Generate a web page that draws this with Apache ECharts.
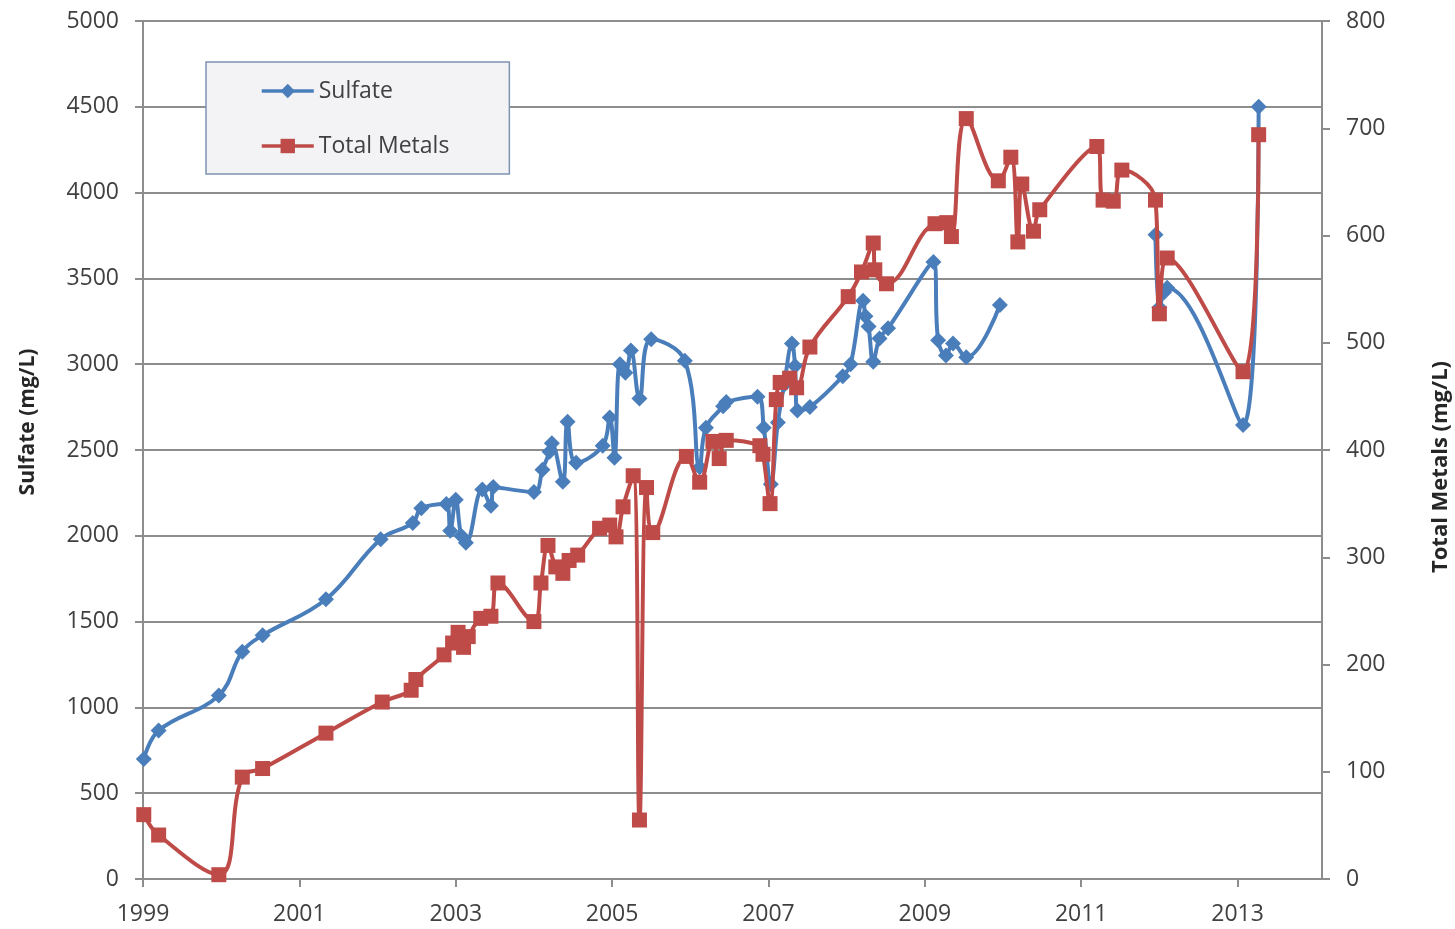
<!DOCTYPE html>
<html>
<head>
<meta charset="utf-8">
<title>Sulfate and Total Metals</title>
<script src="https://cdn.jsdelivr.net/npm/echarts@6/dist/echarts.min.js"></script>
<style>
  html, body { margin: 0; padding: 0; background: #ffffff; }
  #chart { width: 1455px; height: 929px; }
</style>
</head>
<body>
<div id="chart"></div>
<script>
// Sampling dates as decimal years
const sulfateDates = [
  1999.01, 1999.20, 1999.97, 2000.27, 2000.53, 2001.34, 2002.04, 2002.45, 2002.56,
  2002.88, 2002.93, 2003.00, 2003.07, 2003.13, 2003.34, 2003.45, 2003.48,
  2004.00, 2004.11, 2004.20, 2004.23, 2004.37, 2004.43, 2004.54, 2004.88, 2004.97,
  2005.03, 2005.10, 2005.17, 2005.24, 2005.35, 2005.50, 2005.93, 2006.12, 2006.20,
  2006.42, 2006.46, 2006.86, 2006.94, 2007.03, 2007.12, 2007.20, 2007.30, 2007.34,
  2007.37, 2007.53, 2007.95, 2008.05, 2008.21, 2008.24, 2008.28, 2008.34, 2008.42,
  2008.53, 2009.11, 2009.17, 2009.27, 2009.36, 2009.53, 2009.96,
  null,
  2011.95, 2012.00, 2012.06, 2012.10, 2013.07, 2013.27
];
// Sulfate concentration (mg/L); null marks the break in sampling
const sulfateValues = [
  700, 865, 1070, 1325, 1420, 1630, 1980, 2075, 2160,
  2185, 2030, 2210, 2000, 1960, 2270, 2175, 2285,
  2255, 2385, 2490, 2540, 2315, 2665, 2425, 2525, 2690,
  2455, 3000, 2950, 3080, 2800, 3145, 3020, 2400, 2630,
  2755, 2780, 2810, 2630, 2300, 2660, 2880, 3120, 2990,
  2730, 2750, 2930, 3000, 3370, 3280, 3220, 3015, 3150,
  3210, 3595, 3140, 3050, 3120, 3040, 3345,
  null,
  3755, 3330, 3420, 3445, 2645, 4500
];

const metalsDates = [
  1999.01, 1999.20, 1999.97, 2000.27, 2000.53, 2001.34, 2002.06, 2002.43, 2002.49,
  2002.85, 2002.96, 2003.03, 2003.10, 2003.16, 2003.32, 2003.45, 2003.54,
  2004.00, 2004.09, 2004.18, 2004.28, 2004.37, 2004.45, 2004.56, 2004.84, 2004.97,
  2005.05, 2005.14, 2005.27, 2005.35, 2005.44, 2005.52, 2005.95, 2006.12, 2006.29,
  2006.37, 2006.46, 2006.89, 2006.93, 2007.02, 2007.10, 2007.15, 2007.27, 2007.36,
  2007.53, 2008.02, 2008.19, 2008.34, 2008.36, 2008.51, 2009.13, 2009.28, 2009.34,
  2009.53, 2009.94, 2010.10, 2010.19, 2010.24, 2010.39, 2010.47, 2011.20, 2011.28,
  2011.41, 2011.52, 2011.95, 2012.00, 2012.10, 2013.07, 2013.27
];
// Total metals concentration (mg/L)
const metalsValues = [
  60, 41, 4, 95, 103, 136, 165, 176, 186,
  209, 220, 230, 216, 226, 243, 245, 276,
  240, 276, 311, 291, 285, 297, 302, 327, 330,
  319, 347, 376, 55, 365, 323, 394, 370, 408,
  392, 409, 404, 396, 350, 447, 463, 467, 458,
  496, 543, 566, 593, 568, 555, 611, 612, 599,
  709, 651, 673, 594, 648, 604, 624, 683, 633,
  632, 661, 633, 527, 579, 473, 694
];

const yearTicks = [1999, 2001, 2003, 2005, 2007, 2009, 2011, 2013];
const sulfateTicks = [0, 500, 1000, 1500, 2000, 2500, 3000, 3500, 4000, 4500, 5000];
const metalsTicks = [0, 100, 200, 300, 400, 500, 600, 700, 800];

const pairUp = (xs, ys) => xs.map((x, i) => (x === null || ys[i] === null) ? [null, null] : [x, ys[i]]);

const FONT = '"Open Sans", "Liberation Sans", sans-serif';
const GRID_GRAY = '#8d8d8d';
const LABEL_GRAY = '#404040';
const BLUE = '#4a7ebb';
const RED = '#be4b48';
const plain = v => String(Math.round(v));

const chart = echarts.init(document.getElementById('chart'), null, { renderer: 'canvas' });

chart.setOption({
  backgroundColor: '#ffffff',
  animation: false,
  textStyle: { fontFamily: FONT },
  grid: { left: 143, right: 133, top: 21, bottom: 50, containLabel: false },
  legend: {
    orient: 'vertical',
    left: 206,
    top: 62,
    padding: [15, 60, 14, 54],
    itemGap: 27,
    itemWidth: 52,
    itemHeight: 18,
    backgroundColor: '#f3f3f6',
    borderColor: '#7d93b2',
    borderWidth: 1.5,
    borderRadius: 0,
    lineStyle: { width: 3.5 },
    textStyle: { fontFamily: FONT, fontSize: 23, color: LABEL_GRAY, lineHeight: 28 },
    data: ['Sulfate', 'Total Metals']
  },
  xAxis: {
    type: 'value',
    min: 1999,
    max: 2014.08,
    splitLine: { show: false },
    axisLine: { show: true, onZero: false, lineStyle: { color: GRID_GRAY, width: 2 } },
    axisTick: {
      show: true, inside: false, length: 8, customValues: yearTicks,
      lineStyle: { color: GRID_GRAY, width: 2 }
    },
    axisLabel: {
      customValues: yearTicks,
      margin: 24,
      fontFamily: FONT, fontSize: 23, color: LABEL_GRAY,
      formatter: plain
    }
  },
  yAxis: [
    {
      type: 'value',
      min: sulfateTicks[0],
      max: sulfateTicks[sulfateTicks.length - 1],
      interval: sulfateTicks[1] - sulfateTicks[0],
      axisLine: { show: true, lineStyle: { color: GRID_GRAY, width: 2 } },
      axisTick: { show: true, inside: false, length: 8, lineStyle: { color: GRID_GRAY, width: 2 } },
      splitLine: { show: true, lineStyle: { color: GRID_GRAY, width: 2 } },
      axisLabel: { margin: 24, fontFamily: FONT, fontSize: 23, color: LABEL_GRAY, formatter: plain }
    },
    {
      type: 'value',
      position: 'right',
      min: metalsTicks[0],
      max: metalsTicks[metalsTicks.length - 1],
      interval: metalsTicks[1] - metalsTicks[0],
      axisLine: { show: true, lineStyle: { color: GRID_GRAY, width: 2 } },
      axisTick: { show: true, inside: false, length: 8, lineStyle: { color: GRID_GRAY, width: 2 } },
      splitLine: { show: false },
      axisLabel: { margin: 24, fontFamily: FONT, fontSize: 23, color: LABEL_GRAY, formatter: plain }
    }
  ],
  graphic: [
    {
      type: 'text', x: 28, y: 422, rotation: Math.PI / 2,
      style: {
        text: 'Sulfate (mg/L)', fill: '#262626',
        font: 'bold 21px ' + FONT, textAlign: 'center', textVerticalAlign: 'middle'
      }
    },
    {
      type: 'text', x: 1441, y: 467, rotation: Math.PI / 2,
      style: {
        text: 'Total Metals (mg/L)', fill: '#262626',
        font: 'bold 22px ' + FONT, textAlign: 'center', textVerticalAlign: 'middle'
      }
    }
  ],
  series: [
    {
      name: 'Sulfate',
      type: 'line',
      yAxisIndex: 0,
      data: pairUp(sulfateDates, sulfateValues),
      smooth: 0.4,
      connectNulls: false,
      symbol: 'diamond',
      symbolSize: 16,
      showAllSymbol: true,
      lineStyle: { color: BLUE, width: 4 },
      itemStyle: { color: BLUE },
      z: 2
    },
    {
      name: 'Total Metals',
      type: 'line',
      yAxisIndex: 1,
      data: pairUp(metalsDates, metalsValues),
      smooth: 0.4,
      symbol: 'rect',
      symbolSize: 15,
      showAllSymbol: true,
      lineStyle: { color: RED, width: 4 },
      itemStyle: { color: RED },
      z: 3
    }
  ]
});
</script>
</body>
</html>
